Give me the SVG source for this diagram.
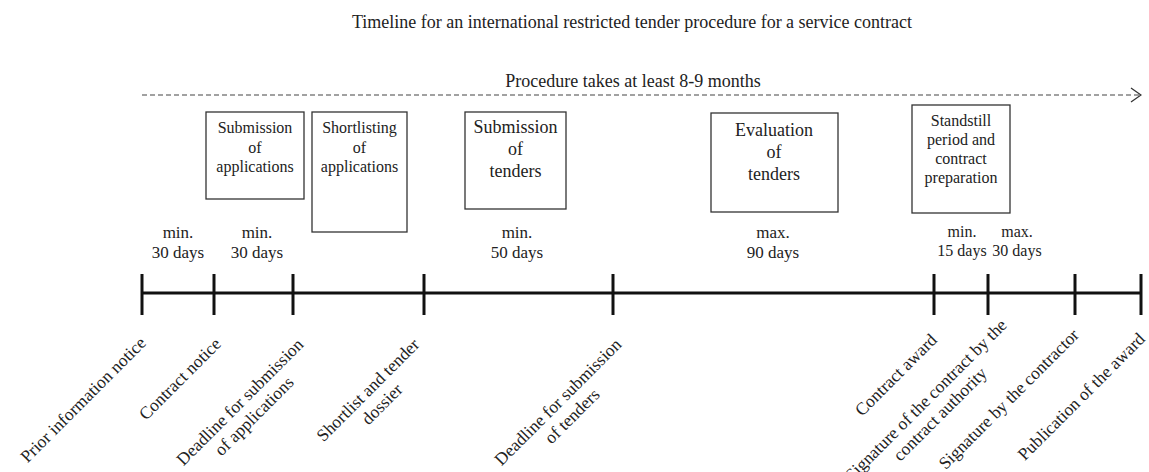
<svg xmlns="http://www.w3.org/2000/svg" width="1149" height="472" viewBox="0 0 1149 472">
<defs>
<style>
text{font-family:"Liberation Serif","Times New Roman",serif;fill:#222}
.t18{font-size:18px}
.t17{font-size:17px}
.t16{font-size:16px}
.lab{font-size:17.5px}
.box{fill:#fff;stroke:#333;stroke-width:1.3}
.mid{text-anchor:middle}
.end{text-anchor:end}
.tick{stroke:#111;stroke-width:3}
</style>
<marker id="chev" viewBox="0 0 12 16" refX="11" refY="8" markerWidth="12" markerHeight="16" markerUnits="userSpaceOnUse" orient="auto">
<polyline points="1,1 11,8 1,15" fill="none" stroke="#333" stroke-width="1.3"/>
</marker>
</defs>
<rect width="1149" height="472" fill="#fff"/>
<text id="title" class="t18 mid" x="632" y="28">Timeline for an international restricted tender procedure for a service contract</text>
<text id="duration" class="t18 mid" x="633" y="87">Procedure takes at least 8-9 months</text>

<g id="connectors">
<line x1="142" y1="95" x2="1141" y2="95" stroke="#444" stroke-width="1.2" stroke-dasharray="5 3" marker-end="url(#chev)"/>
<line x1="142" y1="293" x2="1141" y2="293" stroke="#111" stroke-width="3"/>
<line class="tick" x1="142" y1="274" x2="142" y2="315"/>
<line class="tick" x1="214" y1="274" x2="214" y2="315"/>
<line class="tick" x1="293" y1="274" x2="293" y2="315"/>
<line class="tick" x1="424" y1="274" x2="424" y2="315"/>
<line class="tick" x1="613" y1="274" x2="613" y2="315"/>
<line class="tick" x1="934" y1="274" x2="934" y2="315"/>
<line class="tick" x1="988" y1="274" x2="988" y2="315"/>
<line class="tick" x1="1075" y1="274" x2="1075" y2="315"/>
<line class="tick" x1="1141" y1="274" x2="1141" y2="315"/>
</g>

<g id="box-submission-applications">
<rect class="box" x="206" y="112" width="98" height="87"/>
<text class="t16 mid" x="255" y="133">Submission</text>
<text class="t16 mid" x="255" y="153">of</text>
<text class="t16 mid" x="255" y="172">applications</text>
</g>
<g id="box-shortlisting">
<rect class="box" x="312" y="112" width="95" height="120"/>
<text class="t16 mid" x="359.5" y="133">Shortlisting</text>
<text class="t16 mid" x="359.5" y="153">of</text>
<text class="t16 mid" x="359.5" y="172">applications</text>
</g>
<g id="box-submission-tenders">
<rect class="box" x="465" y="112" width="101" height="97"/>
<text class="t18 mid" x="515.5" y="133">Submission</text>
<text class="t18 mid" x="515.5" y="155">of</text>
<text class="t18 mid" x="515.5" y="177">tenders</text>
</g>
<g id="box-evaluation">
<rect class="box" x="711" y="113" width="127" height="99"/>
<text class="t18 mid" x="774" y="136">Evaluation</text>
<text class="t18 mid" x="774" y="158">of</text>
<text class="t18 mid" x="774" y="180">tenders</text>
</g>
<g id="box-standstill">
<rect class="box" x="912" y="105" width="98" height="108"/>
<text class="t16 mid" x="961" y="126">Standstill</text>
<text class="t16 mid" x="961" y="145">period and</text>
<text class="t16 mid" x="961" y="164">contract</text>
<text class="t16 mid" x="961" y="183">preparation</text>
</g>

<g id="durations">
<text class="t17 mid" x="178" y="238">min.</text><text class="t17 mid" x="178" y="258">30 days</text>
<text class="t17 mid" x="257" y="238">min.</text><text class="t17 mid" x="257" y="258">30 days</text>
<text class="t17 mid" x="517" y="238">min.</text><text class="t17 mid" x="517" y="258">50 days</text>
<text class="t17 mid" x="773" y="238">max.</text><text class="t17 mid" x="773" y="258">90 days</text>
<text class="t16 mid" x="962" y="237">min.</text><text class="t16 mid" x="962" y="256">15 days</text>
<text class="t16 mid" x="1017" y="237">max.</text><text class="t16 mid" x="1017" y="256">30 days</text>
</g>

<g id="milestones">
<g id="m-prior"><text class="lab end" transform="translate(147,344) rotate(-45)">Prior information notice</text></g>
<g id="m-contract-notice"><text class="lab end" transform="translate(222,345) rotate(-45)">Contract notice</text></g>
<g id="m-deadline-applications"><text class="lab mid" transform="translate(244,406) rotate(-45)"><tspan x="0" y="0">Deadline for submission</tspan><tspan x="0" dy="20">of applications</tspan></text></g>
<g id="m-shortlist"><text class="lab mid" transform="translate(372,394) rotate(-45)"><tspan x="0" y="0">Shortlist and tender</tspan><tspan x="0" dy="20">dossier</tspan></text></g>
<g id="m-deadline-tenders"><text class="lab mid" transform="translate(562,406) rotate(-45)"><tspan x="0" y="0">Deadline for submission</tspan><tspan x="0" dy="20">of tenders</tspan></text></g>
<g id="m-award"><text class="lab end" transform="translate(938,341) rotate(-45)">Contract award</text></g>
<g id="m-signature-authority"><text class="lab mid" transform="translate(930,404) rotate(-45)"><tspan x="0" y="0">Signature of the contract by the</tspan><tspan x="0" dy="20">contract authority</tspan></text></g>
<g id="m-signature-contractor"><text class="lab end" transform="translate(1080,336) rotate(-45)">Signature by the contractor</text></g>
<g id="m-publication"><text class="lab end" transform="translate(1146,340) rotate(-45)">Publication of the award</text></g>
</g>
</svg>
